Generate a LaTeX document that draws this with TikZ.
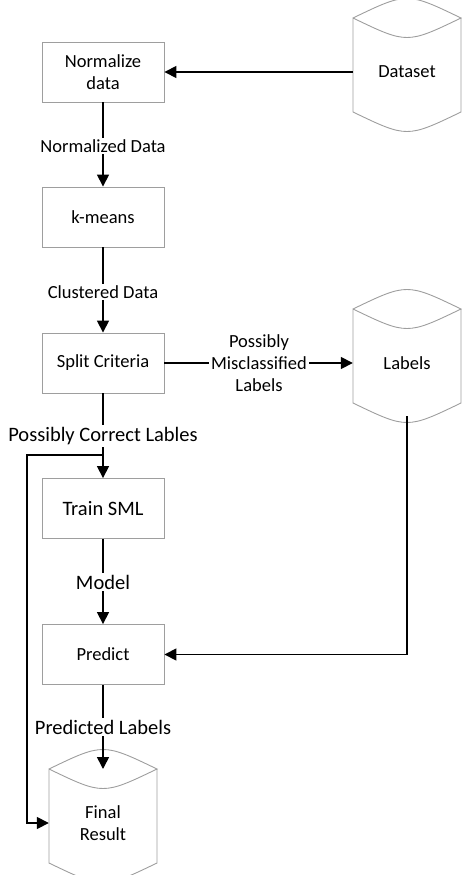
\documentclass[tikz,border=0pt]{standalone}
\usepackage{fontspec}
\setmainfont{Carlito}
\usetikzlibrary{calc,arrows.meta}
\newcommand\drawdb[1]{%
  \draw[boxline] ($(#1)+(-54,-54)$) .. controls ($(#1)+(0,-80)$) .. ($(#1)+(54,-54)$)
     .. controls ($(#1)+(0,-28)$) .. ($(#1)+(-54,-54)$) -- ($(#1)+(-54,40)$)
     .. controls ($(#1)+(0,66)$) .. ($(#1)+(54,40)$) -- ($(#1)+(54,-54)$);
  \coordinate (#1-top) at ($(#1)+(0,-54)$);
  \coordinate (#1-bot) at ($(#1)+(0,53)$);
}
\tikzset{
  every node/.style={font=\fontsize{18.5}{22}\selectfont, align=center},
  big/.style={font=\fontsize{20.5}{24}\selectfont},
  boxline/.style={draw=black!38, line width=0.9pt},
  procbox/.style={boxline, rectangle, minimum width=122, minimum height=60, inner sep=0},
  dbtext/.style={rectangle, minimum width=108, inner sep=0},
  arr/.style={draw=black, line width=1.6pt, -{Triangle[length=12pt,width=12pt]}},
  lbl/.style={fill=white, inner sep=2pt},
}
\begin{document}
\begin{tikzpicture}[x=1pt,y=-1pt]
\useasboundingbox (0,0) rectangle (461,875);
\node[procbox] (norm) at (103,72) {Normalize\\data};
\node[procbox] (kmeans) at (103,217) {k-means};
\node[procbox] (split) at (103,363) {Split Criteria};
\node[procbox,big] (train) at (103,508.5) {Train SML};
\node[procbox] (predict) at (103,654.5) {Predict};
\node[dbtext] (ds) at (407,72) {Dataset};
\node[dbtext] (lab) at (407,363) {Labels};
\node[dbtext] (fr) at (103,823) {Final\\Result};
\drawdb{ds}
\drawdb{lab}
\drawdb{fr}
\coordinate (branch) at (103,455);
\coordinate (fb) at (27,455);
\coordinate (lk) at (407,654.5);
\draw[arr] (ds.west) -- (norm.east);
\draw[arr] (norm.south) -- (kmeans.north);
\draw[arr] (kmeans.south) -- (split.north);
\draw[arr] (split.east) -- (lab.west);
\draw[arr] (split.south) -- (train.north);
\draw[arr] (train.south) -- (predict.north);
\draw[arr] (predict.south) -- (fr-top);
\draw[arr] (branch) -- (fb) |- (fr.west);
\draw[arr] (lab-bot) -- (lk) -- (predict.east);
\node[lbl] (l1) at (103,146) {Normalized Data};
\node[lbl] (l2) at (103,292) {Clustered Data};
\node[lbl] (l3) at (259,363) {Possibly\\Misclassified\\Labels};
\node[lbl,big] (l4) at (103,436) {Possibly Correct Lables};
\node[lbl,big] (l5) at (103,582) {Model};
\node[lbl,big] (l6) at (103,727) {Predicted Labels};
\end{tikzpicture}
\end{document}
